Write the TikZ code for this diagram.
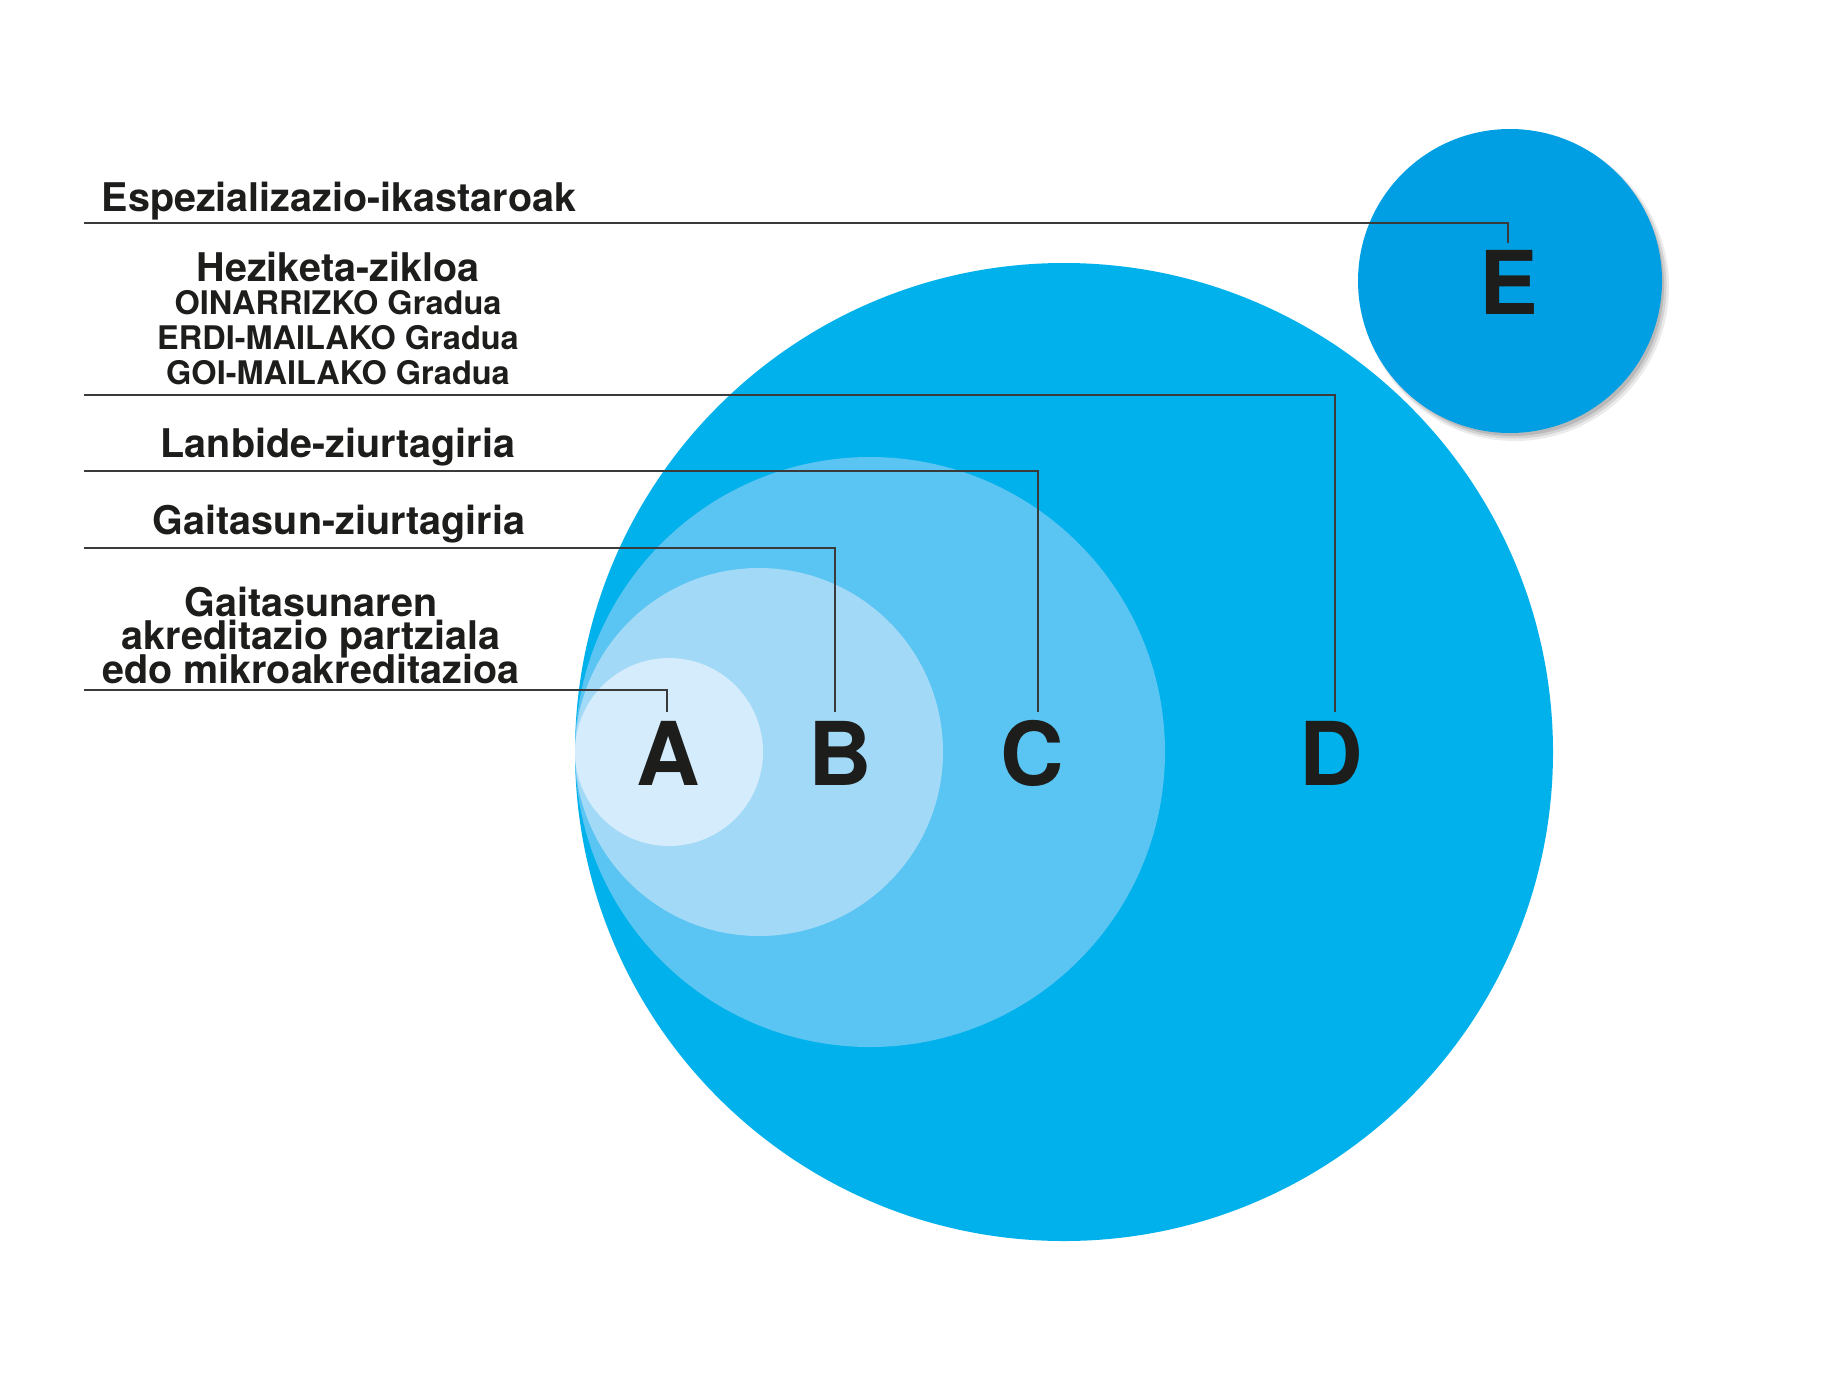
\documentclass[tikz,border=0pt]{standalone}
\usepackage{fontspec}
\setmainfont{TeX Gyre Heros}
\definecolor{cD}{HTML}{00B1EB}
\definecolor{cC}{HTML}{5AC5F2}
\definecolor{cB}{HTML}{A2D9F7}
\definecolor{cA}{HTML}{D4ECFC}
\definecolor{cE}{HTML}{009FE3}
\definecolor{ink}{HTML}{1D1D1B}
\definecolor{leader}{HTML}{3A3A3A}
\tikzset{
  lbl/.style={anchor=base, inner sep=0pt, text=ink, font=\fontsize{39.5}{40}\selectfont\bfseries},
  tightlbl/.style={lbl, text height=26pt, text depth=6pt},
  sublbl/.style={anchor=base, inner sep=0pt, text=ink, text height=23pt, text depth=5pt, font=\fontsize{32.5}{33}\selectfont\bfseries},
  letter/.style={anchor=base, inner sep=0pt, text=ink, font=\fontsize{88}{88}\selectfont\bfseries},
  leaderline/.style={draw=leader, line width=1.4pt},
  disc/.style={circle, inner sep=0pt, minimum size=#1, draw=none}
}
\begin{document}
\begin{tikzpicture}[x=1pt,y=-1pt]
\useasboundingbox (0,0) rectangle (1825,1377);
% circles
\node[disc=978pt, fill=cD] (cirD) at (1064,752) {};
\node[disc=590pt, fill=cC] (cirC) at (870,752) {};
\node[disc=368pt, fill=cB] (cirB) at (759,752) {};
\node[disc=188pt, fill=cA] (cirA) at (669,752) {};
% shadow of E
\fill[black, opacity=0.08] (1515,287) circle (154);
\fill[black, opacity=0.10] (1514,286) circle (152.5);
\fill[black, opacity=0.12] (1513,285) circle (151);
\node[disc=304pt, fill=cE] (cirE) at (1510,281) {};
% letters
\node[letter] (lA) at (668,785) {A};
\node[letter] (lB) at (840,785) {B};
\node[letter] (lC) at (1032,785) {C};
\node[letter] (lD) at (1331,785) {D};
\node[letter] (lE) at (1509,314) {E};
% labels
\node[lbl] (tE) at (339,211) {Espezializazio-ikastaroak};
\node[tightlbl] (tD1) at (338,281) {Heziketa-zikloa};
\node[sublbl] (tD2) at (338,314) {OINARRIZKO Gradua};
\node[sublbl] (tD3) at (338,349) {ERDI-MAILAKO Gradua};
\node[sublbl] (tD4) at (338,384) {GOI-MAILAKO Gradua};
\node[lbl] (tC) at (338,457) {Lanbide-ziurtagiria};
\node[lbl] (tB) at (339,534) {Gaitasun-ziurtagiria};
\node[tightlbl] (tA1) at (311,616) {Gaitasunaren};
\node[tightlbl] (tA2) at (311,649) {akreditazio partziala};
\node[tightlbl] (tA3) at (311,683) {edo mikroakreditazioa};
% leader start points and corners
\coordinate (sE) at (84,223);
\coordinate (sD) at (84,395);
\coordinate (sC) at (84,471);
\coordinate (sB) at (84,548);
\coordinate (sA) at (84,690);
\coordinate (eE) at (1508,243);
\coordinate (eD) at (1335,712);
\coordinate (eC) at (1038,712);
\coordinate (eB) at (835,712);
\coordinate (eA) at (667,712);
\draw[leaderline] (sE) -| (eE);
\draw[leaderline] (sD) -| (eD);
\draw[leaderline] (sC) -| (eC);
\draw[leaderline] (sB) -| (eB);
\draw[leaderline] (sA) -| (eA);
\end{tikzpicture}
\end{document}
